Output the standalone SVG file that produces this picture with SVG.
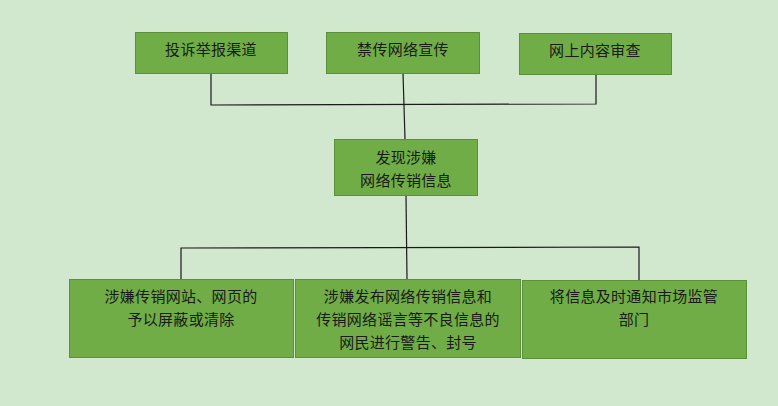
<svg xmlns="http://www.w3.org/2000/svg" width="778" height="406" viewBox="0 0 778 406">
<style>
.bg{fill:#d2e8ce}
.box{fill:#70ad47;stroke:#5b8f3a;stroke-width:1}
.t{font-family:"Noto Sans CJK SC","Liberation Sans",sans-serif;font-size:15px;letter-spacing:0.3px;fill:#1a1a1a;text-anchor:middle}
.c{fill:none;stroke:#1a1a1a;stroke-width:1.2}
</style>
<rect class="bg" x="0" y="0" width="778" height="406"/>
<g id="connectors">
<polyline class="c" points="211,73 211,105 596,104 596,74"/>
<line class="c" x1="403" y1="73" x2="405" y2="139"/>
<line class="c" x1="406" y1="195" x2="407" y2="279"/>
<polyline class="c" points="181,279 181,248 639,247 639,280"/>
</g>
<g id="n1"><rect class="box" x="135.5" y="32.5" width="152" height="41"/><text class="t" x="211" y="55">投诉举报渠道</text></g>
<g id="n2"><rect class="box" x="326.5" y="32.5" width="153" height="41"/><text class="t" x="403" y="55">禁传网络宣传</text></g>
<g id="n3"><rect class="box" x="519.5" y="33.5" width="152" height="41"/><text class="t" x="595" y="56">网上内容审查</text></g>
<g id="n4"><rect class="box" x="334.5" y="139.5" width="143" height="56"/><text class="t" x="406" y="163">发现涉嫌</text><text class="t" x="406" y="186">网络传销信息</text></g>
<g id="n5"><rect class="box" x="69.5" y="279.5" width="224" height="78"/><text class="t" x="181" y="302">涉嫌传销网站、网页的</text><text class="t" x="181" y="325">予以屏蔽或清除</text></g>
<g id="n6"><rect class="box" x="295.5" y="279.5" width="225" height="78"/><text class="t" x="408" y="302">涉嫌发布网络传销信息和</text><text class="t" x="408" y="325">传销网络谣言等不良信息的</text><text class="t" x="408" y="348">网民进行警告、封号</text></g>
<g id="n7"><rect class="box" x="522.5" y="280.5" width="224" height="78"/><text class="t" x="634" y="302">将信息及时通知市场监管</text><text class="t" x="634" y="325">部门</text></g>
</svg>
